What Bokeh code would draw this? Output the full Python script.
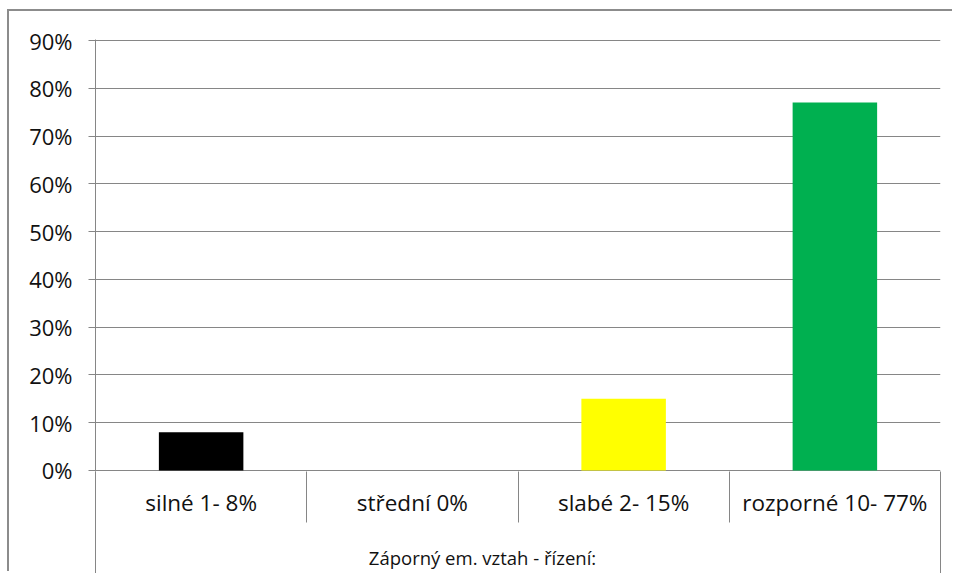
from bokeh.plotting import figure
from bokeh.models import Range1d, LinearAxis, FixedTicker, NumeralTickFormatter, ColumnDataSource
from bokeh.embed import file_html
from bokeh.resources import INLINE

# ---- data ----
categories = ["silné 1- 8%", "střední 0%", "slabé 2- 15%", "rozporné 10- 77%"]
values = [0.08, 0.00, 0.15, 0.77]
bar_colors = ["#000000", "#4F81BD", "#FFFF00", "#00B050"]
group_label = "Záporný em. vztah - řízení:"
y_ticks = [0.0, 0.1, 0.2, 0.3, 0.4, 0.5, 0.6, 0.7, 0.8, 0.9]

# ---- style ----
GRAY = "#868686"
TEXT = "#111111"
FONT = "Open Sans"

n = len(categories)
centers = [i + 0.5 for i in range(n)]          # one unit per category
bounds = [float(i) for i in range(n + 1)]

p = figure(
    width=945, height=562,
    x_range=Range1d(0, n),
    y_range=Range1d(-0.0021, 0.9021),
    x_axis_location=None,
    output_backend="svg", toolbar_location=None,
    min_border_left=86, min_border_top=28, min_border_right=14, min_border_bottom=102,
)
# outer chart frame (top and left edges visible in the crop)
p.styles = {"box-shadow": "-2px -2px 0px 0px #8c8c8c",
            "margin-left": "9px", "margin-top": "11px"}
p.outline_line_color = None
p.background_fill_color = "white"
p.border_fill_color = "white"
p.xgrid.visible = False

src = ColumnDataSource(dict(x=centers, top=values, color=bar_colors, cat=categories))
p.vbar(x="x", top="top", width=0.4, fill_color="color", line_color=None, source=src)

# y axis
ya = p.yaxis[0]
ya.ticker = FixedTicker(ticks=y_ticks, minor_ticks=[])
ya.formatter = NumeralTickFormatter(format="0%")
ya.axis_line_color = GRAY
ya.major_tick_line_color = GRAY
ya.major_tick_in = 0
ya.major_tick_out = 7
ya.minor_tick_line_color = None
ya.major_label_text_font = FONT
ya.major_label_text_font_size = "22px"
ya.major_label_text_color = TEXT
ya.major_label_standoff = 16

p.ygrid.ticker = FixedTicker(ticks=y_ticks)
p.ygrid.grid_line_color = GRAY

# category labels with separators between categories
ax1 = LinearAxis()
ax1.ticker = FixedTicker(ticks=centers, minor_ticks=bounds)
ax1.major_label_overrides = {c: lab for c, lab in zip(centers, categories)}
ax1.axis_line_color = None
ax1.major_tick_line_color = None
ax1.major_tick_in = 0
ax1.major_tick_out = 0
ax1.minor_tick_line_color = GRAY
ax1.minor_tick_in = 0
ax1.minor_tick_out = 51
ax1.major_label_text_font = FONT
ax1.major_label_text_font_size = "22.5px"
ax1.major_label_text_color = TEXT
ax1.major_label_standoff = -36
p.add_layout(ax1, "below")

# group label spanning all categories
group_pos = 1.832
ax2 = LinearAxis()
ax2.ticker = FixedTicker(ticks=[group_pos], minor_ticks=[bounds[0], bounds[-1]])
ax2.major_label_overrides = {group_pos: group_label}
ax2.axis_line_color = None
ax2.major_tick_line_color = None
ax2.major_tick_in = 0
ax2.major_tick_out = 0
ax2.minor_tick_line_color = GRAY
ax2.minor_tick_in = 0
ax2.minor_tick_out = 55
ax2.major_label_text_font = FONT
ax2.major_label_text_font_size = "18.5px"
ax2.major_label_text_color = TEXT
ax2.major_label_standoff = -31
p.add_layout(ax2, "below")

open("out.html", "w").write(file_html(p, INLINE))
